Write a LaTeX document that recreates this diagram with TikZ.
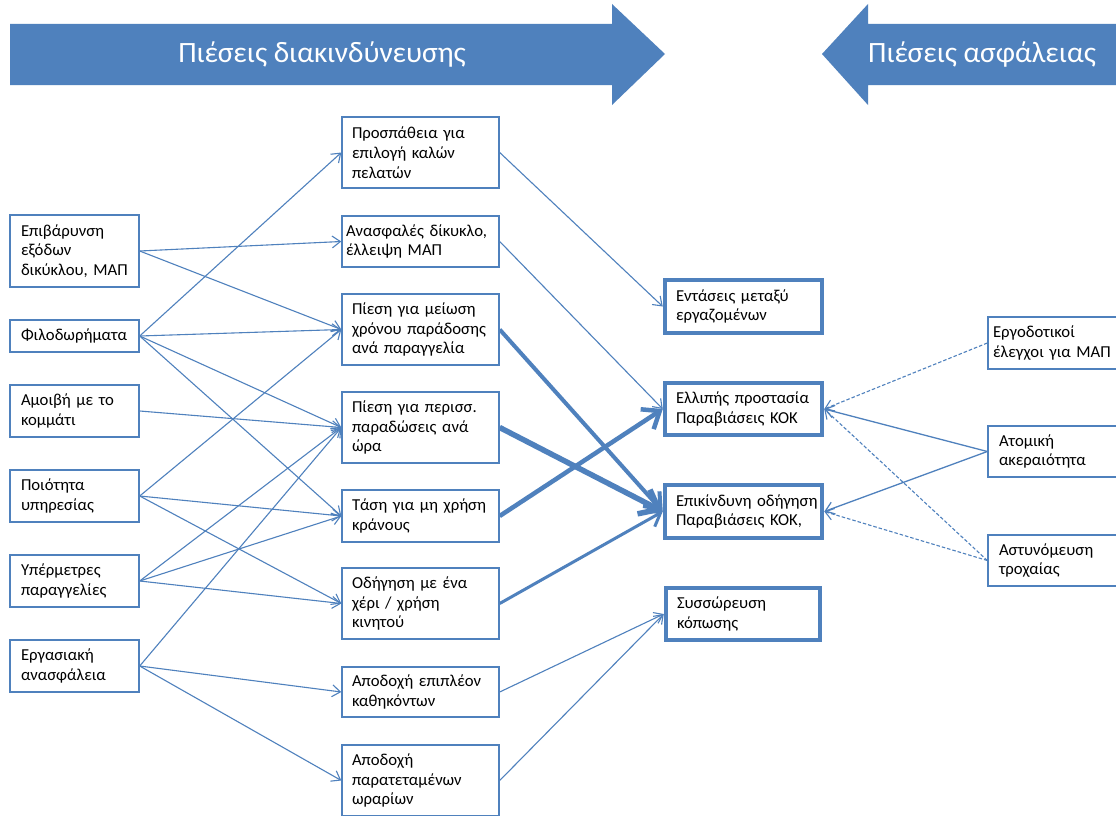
\documentclass[tikz,border=0pt]{standalone}
\usepackage{fontspec}
\setmainfont{Carlito}
\usetikzlibrary{arrows.meta}
\definecolor{mblue}{HTML}{4F81BD}
\newcommand{\bfnt}{\fontsize{16.7}{19.8}\selectfont}
\newcommand{\tfnt}{\fontsize{29.5}{33}\selectfont}
\begin{document}
\begin{tikzpicture}[x=1pt,y=-1pt,
  box/.style={draw=mblue, line width=1.4pt, fill=white, align=left, inner ysep=0pt, font=\bfnt, text=black},
  lbox/.style={box, text width=107pt, inner xsep=11pt},
  mbox/.style={box, text width=137pt, inner xsep=10pt},
  tbox/.style={box, line width=4.5pt, text width=135pt, inner xsep=11pt},
  rbox/.style={box, text width=118pt, inner xsep=11pt},
  conn/.style={draw=mblue, line width=1.1pt, -{Straight Barb[length=6pt 2, width=8pt 3.5]}},
  dconn/.style={conn, line width=1.1pt, dash pattern=on 3.5pt off 2pt},
  ttl/.style={font=\tfnt, text=white, inner sep=0pt}
]
\useasboundingbox (0,0) rectangle (1116,816);
\fill[white] (0,0) rectangle (1116,816);
% title arrows
\fill[mblue] (10,24) -- (612,24) -- (612,4) -- (665,54) -- (612,105) -- (612,85) -- (10,85) -- cycle;
\fill[mblue] (1120,24) -- (868,24) -- (868,4) -- (822,54) -- (868,105) -- (868,85) -- (1120,85) -- cycle;
\node[ttl] (t1) at (322,54) {Πιέσεις διακινδύνευσης};
\node[ttl] (t2) at (982,54) {Πιέσεις ασφάλειας};
% left column
\node[lbox, minimum height=72pt] (epi) at (74.5,251) {Επιβάρυνση\\εξόδων\\\mbox{δικύκλου, ΜΑΠ}};
\node[lbox, minimum height=32pt] (fil) at (74.5,336) {Φιλοδωρήματα};
\node[lbox, minimum height=52pt] (amo) at (74.5,411) {Αμοιβή με το\\κομμάτι};
\node[lbox, minimum height=52pt] (poi) at (74.5,496) {Ποιότητα\\υπηρεσίας};
\node[lbox, minimum height=52pt] (ype) at (74.5,581) {Υπέρμετρες\\παραγγελίες};
\node[lbox, minimum height=52pt] (erg) at (74.5,666) {Εργασιακή\\ανασφάλεια};
% middle column
\node[mbox, minimum height=71pt] (pro) at (420.5,152.5) {Προσπάθεια για\\επιλογή καλών\\πελατών};
\node[mbox, minimum height=51pt, inner xsep=4pt, text width=149pt] (ana) at (420.5,241.5) {\mbox{Ανασφαλές δίκυκλο,}\\έλλειψη ΜΑΠ};
\node[mbox, minimum height=71pt] (pme) at (420.5,329.5) {Πίεση για μείωση\\\mbox{χρόνου παράδοσης}\\ανά παραγγελία};
\node[mbox, minimum height=71pt] (ppe) at (420.5,427.5) {Πίεση για περισσ.\\παραδώσεις ανά\\ώρα};
\node[mbox, minimum height=52pt] (tas) at (420.5,516) {\mbox{Τάση για μη χρήση}\\κράνους};
\node[mbox, minimum height=71pt] (odi) at (420.5,603.5) {Οδήγηση με ένα\\χέρι / χρήση\\κινητού};
\node[mbox, minimum height=50pt] (ape) at (420.5,692) {\mbox{Αποδοχή επιπλέον}\\καθηκόντων};
\node[mbox, minimum height=71pt] (apa) at (420.5,780.5) {Αποδοχή\\παρατεταμένων\\ωραρίων};
% thick column
\node[tbox, minimum height=53pt] (ent) at (743.5,306.5) {Εντάσεις μεταξύ\\εργαζομένων};
\node[tbox, minimum height=52pt] (ell) at (743.5,409) {\mbox{Ελλιπής προστασία}\\\mbox{Παραβιάσεις ΚΟΚ}};
\node[tbox, minimum height=53pt] (epk) at (743.5,511.5) {\mbox{Επικίνδυνη οδήγηση}\\\mbox{Παραβιάσεις ΚΟΚ,}};
\node[tbox, minimum height=52pt, text width=132pt] (sys) at (743,614) {Συσσώρευση\\κόπωσης};
% right column
\node[rbox, minimum height=52pt, inner xsep=5pt, text width=130pt] (ergo) at (1058,343) {Εργοδοτικοί\\\mbox{έλεγχοι για ΜΑΠ}};
\node[rbox, minimum height=51pt] (ato) at (1058,451.5) {Ατομική\\ακεραιότητα};
\node[rbox, minimum height=51pt] (ast) at (1058,560.5) {Αστυνόμευση\\τροχαίας};
% left -> middle
\draw[conn] (epi.east) -- (ana.west);
\draw[conn] (epi.east) -- (pme.west);
\draw[conn] (fil.east) -- (pro.west);
\draw[conn] (fil.east) -- (pme.west);
\draw[conn] (fil.east) -- (ppe.west);
\draw[conn] (fil.east) -- (tas.west);
\draw[conn] (amo.east) -- (ppe.west);
\draw[conn] (poi.east) -- (pme.west);
\draw[conn] (poi.east) -- (tas.west);
\draw[conn] (poi.east) -- (odi.west);
\draw[conn] (ype.east) -- (ppe.west);
\draw[conn] (ype.east) -- (tas.west);
\draw[conn] (ype.east) -- (odi.west);
\draw[conn] (erg.east) -- (ppe.west);
\draw[conn] (erg.east) -- (ape.west);
\draw[conn] (erg.east) -- (apa.west);
% middle -> thick
\draw[conn] (pro.east) -- (ent.west);
\draw[conn] (ana.east) -- (ell.west);
\draw[conn, line width=4pt] (pme.east) -- (epk.west);
\draw[conn, line width=5.5pt] (ppe.east) -- (epk.west);
\draw[conn, line width=4.5pt] (tas.east) -- (ell.west);
\draw[conn, line width=3pt] (odi.east) -- (epk.west);
\draw[conn] (ape.east) -- (sys.west);
\draw[conn] (apa.east) -- (sys.west);
% right -> thick
\draw[dconn] (ergo.west) -- (ell.east);
\draw[conn, line width=1.3pt] (ato.west) -- (ell.east);
\draw[conn, line width=1.3pt] (ato.west) -- (epk.east);
\draw[dconn] (ast.west) -- (ell.east);
\draw[dconn] (ast.west) -- (epk.east);
\end{tikzpicture}
\end{document}
